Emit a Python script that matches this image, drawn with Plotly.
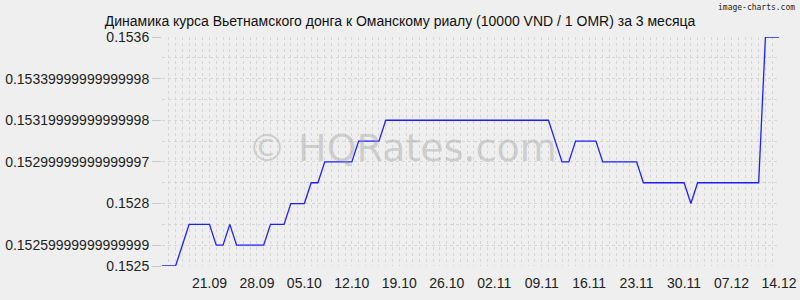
import plotly.graph_objects as go
import pandas as pd

start_date = "2024-09-14"
n_days = 92
dates = pd.date_range(start_date, periods=n_days, freq="D")

rates = [
    0.1525, 0.1525, 0.1525, 0.1526, 0.1527, 0.1527, 0.1527, 0.1527,
    0.1526, 0.1526, 0.1527, 0.1526, 0.1526, 0.1526, 0.1526, 0.1526,
    0.1527, 0.1527, 0.1527, 0.1528, 0.1528, 0.1528, 0.1529, 0.1529,
    0.1530, 0.1530, 0.1530, 0.1530, 0.1530, 0.1531, 0.1531, 0.1531,
    0.1531, 0.1532, 0.1532, 0.1532, 0.1532, 0.1532, 0.1532, 0.1532,
    0.1532, 0.1532, 0.1532, 0.1532, 0.1532, 0.1532, 0.1532, 0.1532,
    0.1532, 0.1532, 0.1532, 0.1532, 0.1532, 0.1532, 0.1532, 0.1532,
    0.1532, 0.1532, 0.1531, 0.1530, 0.1530, 0.1531, 0.1531, 0.1531,
    0.1531, 0.1530, 0.1530, 0.1530, 0.1530, 0.1530, 0.1530, 0.1529,
    0.1529, 0.1529, 0.1529, 0.1529, 0.1529, 0.1529, 0.1528, 0.1529,
    0.1529, 0.1529, 0.1529, 0.1529, 0.1529, 0.1529, 0.1529, 0.1529,
    0.1529, 0.1536, 0.1536, 0.1536,
]

x_tick_dates = ["2024-09-21", "2024-09-28", "2024-10-05", "2024-10-12",
                "2024-10-19", "2024-10-26", "2024-11-02", "2024-11-09",
                "2024-11-16", "2024-11-23", "2024-11-30", "2024-12-07",
                "2024-12-14"]
x_tick_labels = ["21.09", "28.09", "05.10", "12.10", "19.10", "26.10",
                 "02.11", "09.11", "16.11", "23.11", "30.11", "07.12", "14.12"]

y_tick_vals = [0.1525, 0.1526, 0.1528, 0.1530, 0.1532, 0.1534, 0.1536]
y_tick_labels = ["0.1525", "0.15259999999999999", "0.1528",
                 "0.15299999999999997", "0.15319999999999998",
                 "0.15339999999999998", "0.1536"]

title_text = "Динамика курса Вьетнамского донга к Оманскому риалу (10000 VND / 1 OMR) за 3 месяца"

BG = "#efefef"
GRID = "#d6d6d6"
FONT = "Liberation Sans, Arial, sans-serif"

fig = go.Figure()
fig.add_trace(go.Scatter(
    x=dates, y=rates, mode="lines",
    line=dict(color="#1f1fff", width=1.3),
    hoverinfo="x+y", showlegend=False,
))

fig.update_layout(
    width=800, height=300,
    margin=dict(l=162, r=21, t=37, b=34, autoexpand=False),
    paper_bgcolor=BG, plot_bgcolor=BG,
    font=dict(family=FONT, size=14, color="#222222"),
    title=dict(text=title_text, x=0.5, xanchor="center", y=0.93,
               yanchor="middle", font=dict(size=14, color="#111111")),
    xaxis=dict(
        range=[dates[0], dates[-1]], automargin=False,
        tickmode="array", tickvals=x_tick_dates, ticktext=x_tick_labels,
        showgrid=True, gridcolor=GRID, griddash="3px,3px", gridwidth=1,
        zeroline=False, showline=False, ticks="",
        ticklabelstandoff=7,
        tickfont=dict(size=14, color="#222222"),
        minor=dict(tickmode="linear", tick0=start_date, dtick=86400000,
                   showgrid=True, gridcolor=GRID, griddash="3px,3px",
                   gridwidth=1),
    ),
    yaxis=dict(
        range=[0.1525, 0.1536], automargin=False,
        tickmode="array", tickvals=y_tick_vals, ticktext=y_tick_labels,
        showgrid=True, gridcolor=GRID, griddash="3px,3px", gridwidth=1,
        zeroline=False, showline=False,
        ticks="outside", ticklen=9, tickcolor="#c8c8c8", tickwidth=1,
        tickfont=dict(size=14, color="#222222"),
        minor=dict(tickmode="linear", tick0=0.1525, dtick=0.0001,
                   showgrid=True, gridcolor=GRID, griddash="3px,3px",
                   gridwidth=1),
    ),
)

fig.add_annotation(
    text="© HQRates.com", xref="paper", yref="paper", x=0.39, y=0.515,
    xanchor="center", yanchor="middle", showarrow=False,
    font=dict(family="DejaVu Sans, sans-serif", size=38,
              color="rgba(160,160,160,0.42)"),
)
fig.add_annotation(
    text="image-charts.com", xref="paper", yref="paper", x=1.029, y=1.158,
    xanchor="right", yanchor="top", showarrow=False,
    font=dict(family="DejaVu Sans Mono, monospace", size=8, color="#222222"),
)

fig.write_html("out.html")
